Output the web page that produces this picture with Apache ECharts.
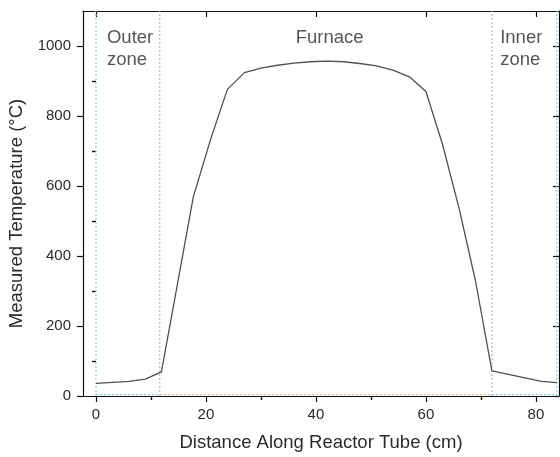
<!DOCTYPE html>
<html>
<head>
<meta charset="utf-8">
<script src="https://cdn.jsdelivr.net/npm/echarts@6/dist/echarts.min.js"></script>
<style>html,body{margin:0;padding:0;background:#fff;}#chart{width:560px;height:457px;}</style>
</head>
<body>
<div id="chart"></div>
<script>
// ---- data ----
const positionCm = [0, 3, 6, 9, 11.9, 14.4, 17.7, 20.9, 23.9, 27, 30, 33, 36, 39, 42, 45, 48, 51, 54, 57, 60, 63, 66, 69, 72, 75, 78, 81, 83.8];
const temperatureC = [36, 39, 42, 48, 69, 284, 569, 736, 876, 924, 937, 945, 951, 955, 957, 955, 950, 943, 931, 912, 870, 720, 538, 330, 72, 62, 52, 42, 38];
const zoneBounds = [0, 11.6, 72, 83.8];
const zoneNames = ['Outer\nzone', 'Furnace', 'Inner\nzone'];
const zoneLabelX = [2.0, 42.5, 73.5];
const zoneLabelY = [1055, 1055, 1055];
const xMajorTicks = [0, 20, 40, 60, 80];
const xMinorTicks = [10, 30, 50, 70];
const yMajorTicks = [0, 200, 400, 600, 800, 1000];
const yMinorTicks = [100, 300, 500, 700, 900];
const xTitle = 'Distance Along Reactor Tube (cm)';
const yTitle = 'Measured Temperature (°C)';

const X_MIN = -2.36, X_MAX = 84.2, Y_MIN = 0, Y_MAX = 1100;
const FONT = 'Liberation Sans, Arial, sans-serif';
const TXT = '#2b2b2b';
const AX = '#111';

function xAx(opts) {
  return Object.assign({
    type: 'value', min: X_MIN, max: X_MAX, splitLine: {show: false},
    axisLine: {show: false}, axisLabel: {show: false}, axisTick: {show: false}
  }, opts);
}
function yAx(opts) {
  return Object.assign({
    type: 'value', min: Y_MIN, max: Y_MAX, splitLine: {show: false},
    axisLine: {show: false}, axisLabel: {show: false}, axisTick: {show: false}
  }, opts);
}

const axisLineStyle = {show: true, onZero: false, lineStyle: {color: AX, width: 1.2}};
const tickStyle = {color: AX, width: 1.2};

const zoneColors = ['#86cde6', '#93cfa6', '#86d49a', '#86cde6'];
const series = [];
// vertical zone boundaries
zoneBounds.forEach((b, i) => {
  series.push({
    type: 'line', xAxisIndex: 0, yAxisIndex: 0, symbol: 'none', silent: true,
    data: [[b, Y_MIN], [b, Y_MAX]],
    lineStyle: {color: zoneColors[i], width: 1.2, type: [2, 2]}, z: 1
  });
});
// horizontal baseline segments of the zones
const baseColors = ['#86cde6', '#eeae84', '#86cde6'];
for (let i = 0; i < zoneBounds.length - 1; i++) {
  series.push({
    type: 'line', xAxisIndex: 0, yAxisIndex: 0, symbol: 'none', silent: true,
    data: [[zoneBounds[i], 4], [zoneBounds[i + 1], 4]],
    lineStyle: {color: baseColors[i], width: 1.2, type: [2, 2]}, z: 1
  });
}
// temperature profile
series.push({
  type: 'line', xAxisIndex: 0, yAxisIndex: 0, symbol: 'none',
  data: positionCm.map((x, i) => [x, temperatureC[i]]),
  lineStyle: {color: '#505050', width: 1.3}, z: 3
});
// zone labels
series.push({
  type: 'scatter', xAxisIndex: 0, yAxisIndex: 0, symbolSize: 0, silent: true,
  data: zoneNames.map((n, i) => ({
    value: [zoneLabelX[i], zoneLabelY[i]],
    label: {align: i === 1 ? 'center' : 'left'}
  })),
  label: {
    show: true, position: 'inside', verticalAlign: 'top',
    formatter: p => zoneNames[p.dataIndex],
    fontFamily: FONT, fontSize: 18.5, lineHeight: 22, color: TXT
  }
});

const option = {
  animation: false,
  backgroundColor: '#fff',
  grid: {left: 83, right: 1, top: 11, bottom: 61, containLabel: false, outerBoundsMode: 'none'},
  xAxis: [
    xAx({position: 'bottom', axisLine: axisLineStyle,
      name: xTitle, nameLocation: 'middle', nameGap: 37,
      nameTextStyle: {fontFamily: FONT, fontSize: 18.5, color: TXT},
      axisTick: {show: true, customValues: xMajorTicks, length: 6, lineStyle: tickStyle},
      axisLabel: {show: true, customValues: xMajorTicks, margin: 11, fontFamily: FONT, fontSize: 15, color: TXT,
        formatter: v => String(v)}}),
    xAx({position: 'bottom',
      axisTick: {show: true, customValues: xMinorTicks, length: 4, lineStyle: tickStyle},
      axisLabel: {show: false, customValues: xMinorTicks}}),
    xAx({position: 'top', axisLine: axisLineStyle,
      axisTick: {show: true, inside: true, customValues: xMajorTicks, length: 6, lineStyle: tickStyle},
      axisLabel: {show: false, customValues: xMajorTicks}}),
    xAx({position: 'top',
      axisTick: {show: true, inside: true, customValues: xMinorTicks, length: 4, lineStyle: tickStyle},
      axisLabel: {show: false, customValues: xMinorTicks}})
  ],
  yAxis: [
    yAx({position: 'left', axisLine: axisLineStyle,
      name: yTitle, nameLocation: 'middle', nameGap: 47, nameRotate: 90,
      nameTextStyle: {fontFamily: FONT, fontSize: 18.5, color: TXT, padding: [0, 20, 0, 0]},
      axisTick: {show: true, customValues: yMajorTicks, length: 6, lineStyle: tickStyle},
      axisLabel: {show: true, customValues: yMajorTicks, margin: 12, fontFamily: FONT, fontSize: 15, color: TXT,
        formatter: v => String(v)}}),
    yAx({position: 'left',
      axisTick: {show: true, customValues: yMinorTicks, length: 4, lineStyle: tickStyle},
      axisLabel: {show: false, customValues: yMinorTicks}}),
    yAx({position: 'right', axisLine: axisLineStyle,
      axisTick: {show: true, inside: true, customValues: yMajorTicks, length: 6, lineStyle: tickStyle},
      axisLabel: {show: false, customValues: yMajorTicks}}),
    yAx({position: 'right',
      axisTick: {show: true, inside: true, customValues: yMinorTicks, length: 4, lineStyle: tickStyle},
      axisLabel: {show: false, customValues: yMinorTicks}})
  ],
  series: series
};

const chart = echarts.init(document.getElementById('chart'), null, {renderer: 'canvas'});
chart.setOption(option);
</script>
</body>
</html>
